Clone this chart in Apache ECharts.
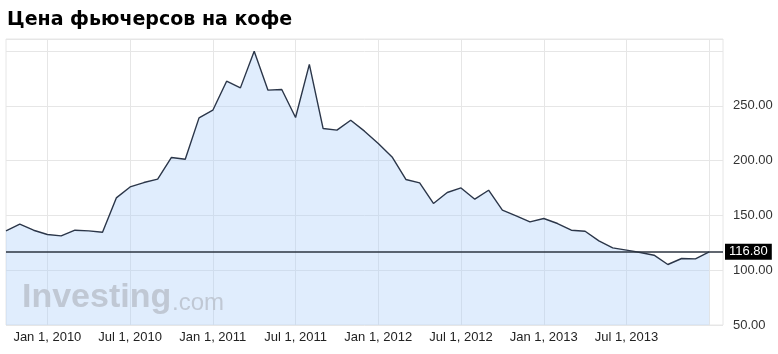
<!DOCTYPE html>
<html>
<head>
<meta charset="utf-8">
<script src="https://cdn.jsdelivr.net/npm/echarts@6/dist/echarts.min.js"></script>
<style>html,body{margin:0;padding:0;background:#fff;}#c{width:778px;height:354px;}</style>
</head>
<body>
<div id="c"></div>
<script>
const title = 'Цена фьючерсов на кофе';
const categories = [
 'Oct 1, 2009','Nov 1, 2009','Dec 1, 2009',
 'Jan 1, 2010','Feb 1, 2010','Mar 1, 2010','Apr 1, 2010','May 1, 2010','Jun 1, 2010',
 'Jul 1, 2010','Aug 1, 2010','Sep 1, 2010','Oct 1, 2010','Nov 1, 2010','Dec 1, 2010',
 'Jan 1, 2011','Feb 1, 2011','Mar 1, 2011','Apr 1, 2011','May 1, 2011','Jun 1, 2011',
 'Jul 1, 2011','Aug 1, 2011','Sep 1, 2011','Oct 1, 2011','Nov 1, 2011','Dec 1, 2011',
 'Jan 1, 2012','Feb 1, 2012','Mar 1, 2012','Apr 1, 2012','May 1, 2012','Jun 1, 2012',
 'Jul 1, 2012','Aug 1, 2012','Sep 1, 2012','Oct 1, 2012','Nov 1, 2012','Dec 1, 2012',
 'Jan 1, 2013','Feb 1, 2013','Mar 1, 2013','Apr 1, 2013','May 1, 2013','Jun 1, 2013',
 'Jul 1, 2013','Aug 1, 2013','Sep 1, 2013','Oct 1, 2013','Nov 1, 2013','Dec 1, 2013',
 'Jan 1, 2014','Feb 1, 2014'
];
const prices = [
 135.9,142.0,136.5,
 132.6,131.3,136.5,135.9,134.7,166.0,
 176.0,180.0,183.1,202.9,201.3,239.0,
 246.0,272.5,266.4,299.9,264.3,264.9,
 239.4,287.8,229.3,227.8,236.9,226.9,
 215.6,203.4,182.8,179.7,160.9,170.9,
 175.1,164.8,173.0,154.8,149.6,144.1,
 147.2,142.6,136.5,135.6,126.8,120.4,
 118.3,116.2,113.7,105.2,110.7,110.3,
 116.8,null
];
const lastPrice = 116.80;
const tickLabels = ['Jan 1, 2010','Jul 1, 2010','Jan 1, 2011','Jul 1, 2011','Jan 1, 2012','Jul 1, 2012','Jan 1, 2013','Jul 1, 2013'];
const gridDates = tickLabels.concat(['Jan 1, 2014']);
const yTicks = [50,100,150,200,250];

const chart = echarts.init(document.getElementById('c'), null, {renderer:'canvas'});
chart.setOption({
  animation:false,
  backgroundColor:'#fff',
  textStyle:{fontFamily:'Liberation Sans, Arial, sans-serif'},
  title:{
    text:title, left:2, top:6,
    textStyle:{fontSize:19, fontWeight:'bold', color:'#000', fontFamily:'DejaVu Sans, sans-serif'}
  },
  grid:{left:6, right:55, top:39, bottom:29, show:true, borderColor:'#e6e6e6', borderWidth:1, backgroundColor:'transparent'},
  xAxis:{
    type:'category', data:categories, boundaryGap:false,
    axisLine:{show:false}, axisTick:{show:false},
    axisLabel:{
      interval:function(i,v){return tickLabels.indexOf(v)>=0;},
      color:'#222', fontSize:13, margin:6
    },
    splitLine:{show:true, interval:function(i,v){return gridDates.indexOf(v)>=0;}, lineStyle:{color:'#e6e6e6', width:1}}
  },
  yAxis:{
    type:'value', position:'right', min:50, max:311, interval:50,
    axisLine:{show:false}, axisTick:{show:false},
    splitLine:{show:true, lineStyle:{color:'#e6e6e6', width:1}},
    axisLabel:{
      color:'#333', fontSize:13, margin:10,
      formatter:function(v){
        if (yTicks.indexOf(v)<0) return '';
        return v.toFixed(2);
      }
    }
  },
  graphic:[
    {type:'text', left:22, top:281, z:5, style:{text:'Investing', fontSize:34, fontWeight:'bold', fill:'#c0c8d4', fontFamily:'Liberation Sans, Arial, sans-serif'}},
    {type:'text', left:172, top:291, z:5, style:{text:'.com', fontSize:24, fill:'#c0c8d4', fontFamily:'Liberation Sans, Arial, sans-serif'}}
  ],
  series:[{
    type:'line', data:prices, showSymbol:false, symbol:'none',
    lineStyle:{color:'#2b3649', width:1.4},
    areaStyle:{color:'rgba(168,204,250,0.5)'},
    z:3,
    markLine:{
      silent:true, symbol:'none',
      data:[{yAxis:lastPrice}],
      lineStyle:{color:'#2d3440', width:1.5, type:'solid'},
      label:{
        show:true, position:'end', formatter:lastPrice.toFixed(2),
        backgroundColor:'#000', color:'#fff', fontSize:13, padding:[2,4,1,4], distance:2
      }
    }
  }]
});
</script>
</body>
</html>
